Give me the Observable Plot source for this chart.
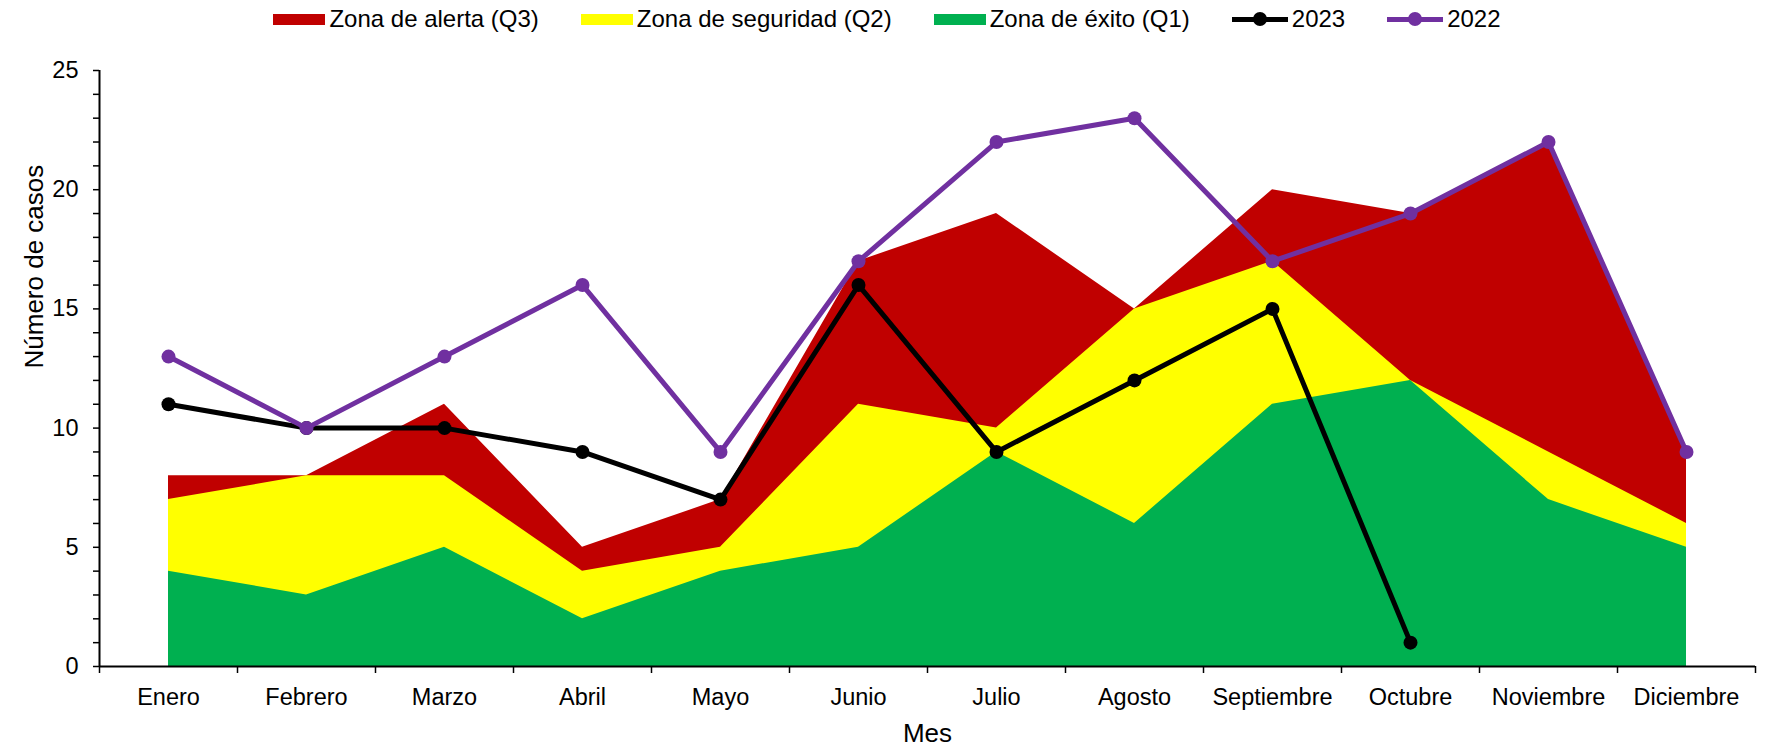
<!DOCTYPE html>
<html>
<head>
<meta charset="utf-8">
<script src="https://cdn.jsdelivr.net/npm/d3@7"></script>
<script src="https://cdn.jsdelivr.net/npm/@observablehq/plot@0.6"></script>
<style>
  html, body { margin: 0; padding: 0; background: #fff; }
  body { width: 1768px; height: 746px; overflow: hidden; font-family: "Liberation Sans", Arial, sans-serif; color: #000; }
  #legend { height: 38px; display: flex; justify-content: center; align-items: center; gap: 42px; font-size: 24px; padding-left: 6px; box-sizing: border-box; }
  .item { display: flex; align-items: center; gap: 4px; }
  .sw { width: 52px; height: 11px; display: inline-block; }
  .ln { position: relative; width: 56px; height: 14px; display: inline-block; }
  .ln .bar { position: absolute; left: 0; right: 0; top: 4.5px; height: 5px; }
  .ln .dot { position: absolute; left: 21px; top: 0; width: 14px; height: 14px; border-radius: 50%; }
</style>
</head>
<body>
<div id="legend"></div>
<div id="chart"></div>
<script>
const meses = ["Enero","Febrero","Marzo","Abril","Mayo","Junio","Julio","Agosto","Septiembre","Octubre","Noviembre","Diciembre"];
const q3 = [8, 8, 11, 5, 7, 17, 19, 15, 20, 19, 22, 9];
const q2 = [7, 8, 8, 4, 5, 11, 10, 15, 17, 12, 9, 6];
const q1 = [4, 3, 5, 2, 4, 5, 9, 6, 11, 12, 7, 5];
const y2023 = [11, 10, 10, 9, 7, 16, 9, 12, 15, 1, null, null];
const y2022 = [13, 10, 13, 16, 9, 17, 22, 23, 17, 19, 22, 9];
const yTicks = d3.range(0, 26);

const colors = { q3: "#C00000", q2: "#FFFF00", q1: "#00B050", y2023: "#000000", y2022: "#7030A0" };
const legendItems = [
  { label: "Zona de alerta (Q3)", color: colors.q3, type: "area" },
  { label: "Zona de seguridad (Q2)", color: colors.q2, type: "area" },
  { label: "Zona de éxito (Q1)", color: colors.q1, type: "area" },
  { label: "2023", color: colors.y2023, type: "line" },
  { label: "2022", color: colors.y2022, type: "line" }
];
const leg = document.getElementById("legend");
for (const it of legendItems) {
  const el = document.createElement("div");
  el.className = "item";
  if (it.type === "area") {
    el.innerHTML = `<span class="sw" style="background:${it.color}"></span><span>${it.label}</span>`;
  } else {
    el.innerHTML = `<span class="ln"><span class="bar" style="background:${it.color}"></span><span class="dot" style="background:${it.color}"></span></span><span>${it.label}</span>`;
  }
  leg.appendChild(el);
}

const rows = meses.map((m, i) => ({ i, mes: m, q1: q1[i], q2: q2[i], q3: q3[i], y2023: y2023[i], y2022: y2022[i] }));
const r2023 = rows.filter(d => d.y2023 != null);
const xDomain = [-0.5, meses.length - 0.5];
const bounds = d3.range(0, meses.length + 1).map(k => k - 0.5);

const chart = Plot.plot({
  width: 1768,
  height: 708,
  marginTop: 32,
  marginBottom: 80,
  marginLeft: 99,
  marginRight: 13,
  style: { fontFamily: "'Liberation Sans', Arial, sans-serif", fontSize: "23.5px", color: "#000", background: "#fff" },
  x: { type: "linear", domain: xDomain },
  y: { domain: [0, 25] },
  marks: [
    Plot.areaY(rows, { x: "i", y: "q3", fill: colors.q3 }),
    Plot.areaY(rows, { x: "i", y: "q2", fill: colors.q2 }),
    Plot.areaY(rows, { x: "i", y: "q1", fill: colors.q1 }),
    Plot.axisY({ ticks: yTicks, tickSize: 6, tickPadding: 15, tickFormat: d => d % 5 === 0 ? String(d) : "", label: null, strokeWidth: 1.5 }),
    Plot.axisX({ ticks: bounds, tickSize: 7, tickFormat: () => "", label: null, strokeWidth: 1.5 }),
    Plot.axisX({ ticks: d3.range(0, meses.length), tickSize: 0, tickPadding: 22, tickFormat: i => meses[i], label: null }),
    Plot.ruleY([0], { stroke: "#000", strokeWidth: 2 }),
    Plot.ruleX([xDomain[0]], { stroke: "#000", strokeWidth: 2 }),
    Plot.line(r2023, { x: "i", y: "y2023", stroke: colors.y2023, strokeWidth: 5 }),
    Plot.dot(r2023, { x: "i", y: "y2023", fill: colors.y2023, r: 7 }),
    Plot.line(rows, { x: "i", y: "y2022", stroke: colors.y2022, strokeWidth: 5 }),
    Plot.dot(rows, { x: "i", y: "y2022", fill: colors.y2022, r: 7 }),
    Plot.text(["Mes"], { frameAnchor: "bottom", dy: 75, fontSize: 26 }),
    Plot.text(["Número de casos"], { frameAnchor: "left", rotate: -90, dx: -65, fontSize: 26 })
  ]
});
document.getElementById("chart").appendChild(chart);
</script>
</body>
</html>
